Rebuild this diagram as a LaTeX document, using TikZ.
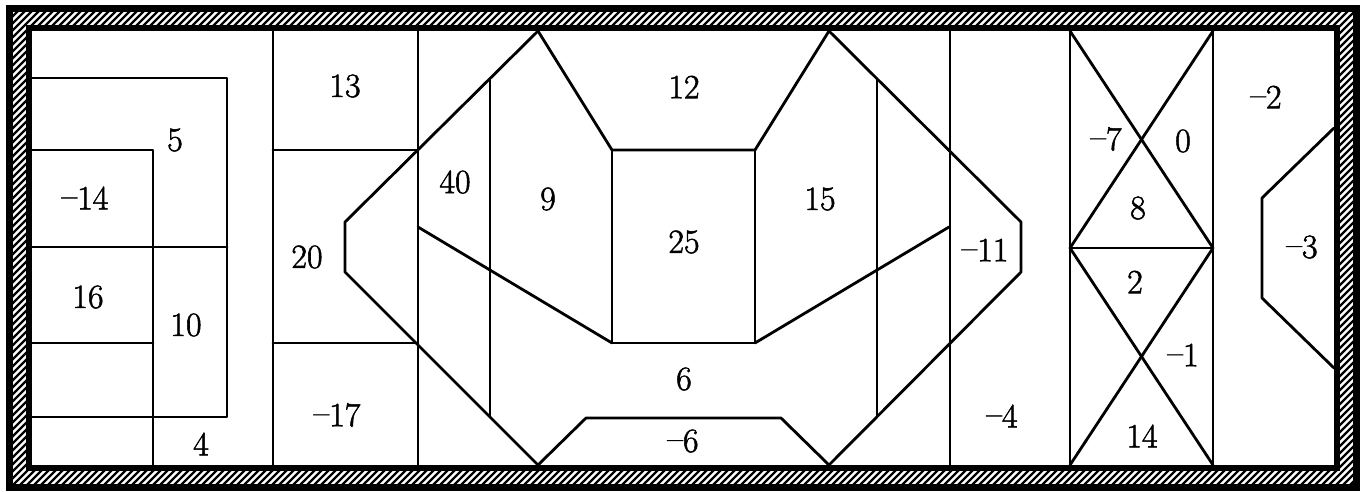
\documentclass[tikz,border=0pt]{standalone}
\usepackage{fontspec}
\newfontfamily\labfont{Latin Modern Roman}[FakeBold=1.6,Ligatures=TeX]
\newcommand{\mn}{\raisebox{0.07em}{\textendash}}
\begin{document}
\begin{tikzpicture}[x={(1pt,0)},y={(0,-1pt)},
  wall/.style={line width=2.8pt,line join=round,line cap=round},
  hatch/.style={line width=2.4pt},
  lab/.style={font=\labfont\fontsize{34}{36}\selectfont,inner sep=0pt}]
\useasboundingbox (0,0) rectangle (1361,491);
% frame
\fill[black] (6,5) rectangle (1360,491);
\fill[white] (13,12) rectangle (1353,484);
\begin{scope}
  \clip (13,12) rectangle (1353,484);
  \foreach \t in {-490,-483,...,1360} \draw[hatch] (\t,491) -- ++(491,-491);
\end{scope}
\fill[black] (26,25) rectangle (1340,471);
\fill[white] (32,31) rectangle (1334,465);
% left block
\draw[wall] (32,78) -- (227,78) -- (227,417) -- (32,417);
\draw[wall] (32,150) -- (153,150) -- (153,465);
\draw[wall] (32,247) -- (227,247);
\draw[wall] (32,343) -- (153,343);
\draw[wall] (273,31) -- (273,465);
\draw[wall] (273,150) -- (418,150);
\draw[wall] (273,343) -- (418,343);
\draw[wall] (418,31) -- (418,465);
% centre block
\draw[wall] (538,31) -- (345,222) -- (345,272) -- (538,465);
\draw[wall] (490,80) -- (490,417);
\draw[wall] (538,31) -- (612,150) -- (755,150) -- (829,31);
\draw[wall] (612,150) -- (612,343) -- (755,343) -- (755,150);
\draw[wall] (418,227) -- (612,343);
\draw[wall] (755,343) -- (949,227);
\draw[wall] (829,31) -- (1021,222) -- (1021,272) -- (829,465);
\draw[wall] (877,80) -- (877,417);
\draw[wall] (538,465) -- (586,418) -- (781,418) -- (829,465);
% right block
\draw[wall] (950,31) -- (950,465);
\draw[wall] (1070,31) -- (1070,465);
\draw[wall] (1213,31) -- (1213,465);
\draw[wall] (1070,31) -- (1213,248);
\draw[wall] (1213,31) -- (1070,248);
\draw[wall] (1070,248) -- (1213,248);
\draw[wall] (1070,248) -- (1213,465);
\draw[wall] (1213,248) -- (1070,465);
\draw[wall] (1334,128) -- (1262,198) -- (1262,298) -- (1334,368);
% labels
\node[lab] (a5) at (175,140) {5};
\node[lab] (am14) at (85,198) {\mn14};
\node[lab] (a16) at (88,297) {16};
\node[lab] (a10) at (186,325) {10};
\node[lab] (a4) at (201,444) {4};
\node[lab] (a13) at (345,86) {13};
\node[lab] (a20) at (307,257) {20};
\node[lab] (am17) at (337,415) {\mn17};
\node[lab] (a40) at (455,182) {40};
\node[lab] (a9) at (548,199) {9};
\node[lab] (a12) at (684,87) {12};
\node[lab] (a25) at (684,242) {25};
\node[lab] (a15) at (820,199) {15};
\node[lab] (a6) at (684,379) {6};
\node[lab] (am6) at (683,441) {\mn6};
\node[lab] (am11) at (985,250) {\mn11};
\node[lab] (am4) at (1002,416) {\mn4};
\node[lab] (am7) at (1106,139) {\mn7};
\node[lab] (a0) at (1183,141) {0};
\node[lab] (a8) at (1138,208) {8};
\node[lab] (a2) at (1135,282) {2};
\node[lab] (am1) at (1183,355) {\mn1};
\node[lab] (a14) at (1142,436) {14};
\node[lab] (am2) at (1266,97) {\mn2};
\node[lab] (am3) at (1302,247) {\mn3};
\end{tikzpicture}
\end{document}
